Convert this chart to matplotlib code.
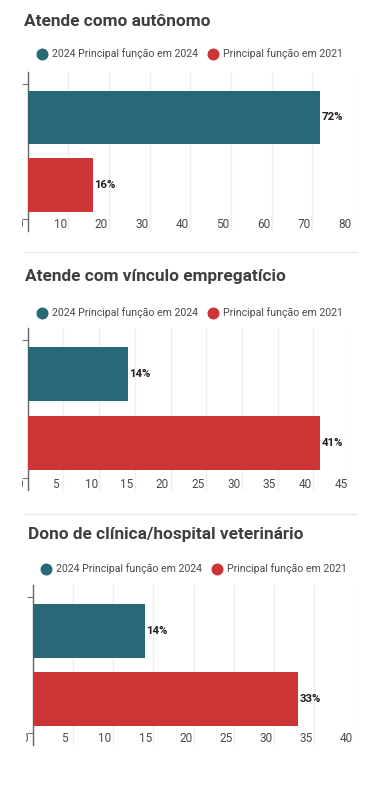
import matplotlib
matplotlib.use('Agg')
import matplotlib.pyplot as plt
from matplotlib.lines import Line2D
from matplotlib.patches import Rectangle
from matplotlib.transforms import blended_transform_factory, ScaledTranslation

plt.rcParams['font.family'] = ['Roboto', 'DejaVu Sans']

# ---- data ----
titles = ["Atende como autônomo",
          "Atende com vínculo empregatício",
          "Dono de clínica/hospital veterinário"]
series_names = ["2024 Principal função em 2024", "Principal função em 2021"]
values_2024 = [72, 14, 14]
values_2021 = [16, 41, 33]
x_max = [80, 45, 40]
x_step = [10, 5, 5]

# ---- style ----
C_TEAL = '#296877'
C_RED = '#cc3535'
TITLE_C = '#3f3f3f'
TEXT_C = '#4a4a4a'
GRID_C = '#efefef'

W, H = 380, 800
fig = plt.figure(figsize=(W / 100, H / 100), dpi=100)
fig.patch.set_facecolor('white')

def fx(x):
    return x / W

def fy(y):
    return 1 - y / H

# layout per panel (pixels): axes left, right, top, bottom, title x, title y, legend y, legend marker xs
layouts = [
    dict(l=27.5, r=353, t=72, b=231, tx=24, ty=22, ly=54, m1=42, m2=213),
    dict(l=27.7, r=349, t=328, b=490, tx=25, ty=277, ly=313, m1=42, m2=213),
    dict(l=32.5, r=354.5, t=585, b=745, tx=28, ty=534, ly=569, m1=46, m2=217),
]

for i, L in enumerate(layouts):
    ax = fig.add_axes([fx(L['l']), fy(L['b']), fx(L['r'] - L['l']), (L['b'] - L['t']) / H])
    ax.set_facecolor('white')
    vals = [values_2024[i], values_2021[i]]
    cols = [C_TEAL, C_RED]
    ax.barh([0, 1], vals, height=0.79, color=cols, zorder=3)
    ax.set_ylim(1.68, -0.67)
    ax.set_xlim(0, x_max[i])
    ticks = list(range(0, x_max[i] + 1, x_step[i]))
    ax.set_xticks(ticks)
    ax.set_xticklabels([])
    ax.tick_params(axis='x', length=0)
    ax.grid(axis='x', color=GRID_C, linewidth=1, zorder=0)
    ax.set_yticks([-0.5, 1.5])
    ax.set_yticklabels([])
    ax.tick_params(axis='y', length=4, width=0.8, color='#777777', direction='out')
    for s in ['top', 'right', 'bottom']:
        ax.spines[s].set_visible(False)
    ax.spines['left'].set_color('#666666')
    ax.spines['left'].set_linewidth(1.0)

    # value labels
    for yv, v in zip([0, 1], vals):
        ax.text(v, yv, f"{v}%", ha='left', va='center', fontsize=8.2,
                fontweight='semibold', color='#1e1e1e', zorder=4,
                transform=ax.transData + ScaledTranslation(1 / 100, 0, fig.dpi_scale_trans))

    # x tick labels (drawn inside, shifted left as in the reference)
    tr = blended_transform_factory(ax.transData, ax.transAxes) + \
        ScaledTranslation(-8 / 100, 0, fig.dpi_scale_trans)
    ybase = 6 / (L['b'] - L['t'])
    for tv in ticks:
        t = ax.text(tv, ybase, str(tv), ha='center', va='center', fontsize=8.5,
                    color=TEXT_C, transform=tr, zorder=5, clip_on=False)
        if tv == 0:
            clip = Rectangle((fx(L['l'] - 6), 0), 1, 1, transform=fig.transFigure)
            t.set_clip_path(clip)
            t.set_clip_on(True)

    # title
    fig.text(fx(L['tx']), fy(L['ty']), titles[i], ha='left', va='center',
             fontsize=12.4, fontweight='bold', color=TITLE_C)

    # legend
    for mx, col, name in [(L['m1'], C_TEAL, series_names[0]), (L['m2'], C_RED, series_names[1])]:
        fig.add_artist(Line2D([fx(mx)], [fy(L['ly'])], marker='o', markersize=7.6,
                              color=col, linestyle='none', transform=fig.transFigure))
        fig.text(fx(mx + 10), fy(L['ly']), name, ha='left', va='center',
                 fontsize=7.6, color=TEXT_C)

# separators
for sy in [252, 514]:
    fig.add_artist(Line2D([fx(24), fx(357)], [fy(sy), fy(sy)], color='#e9e9e9',
                          linewidth=1, transform=fig.transFigure))

fig.savefig('out.png', dpi=100, facecolor='white')
